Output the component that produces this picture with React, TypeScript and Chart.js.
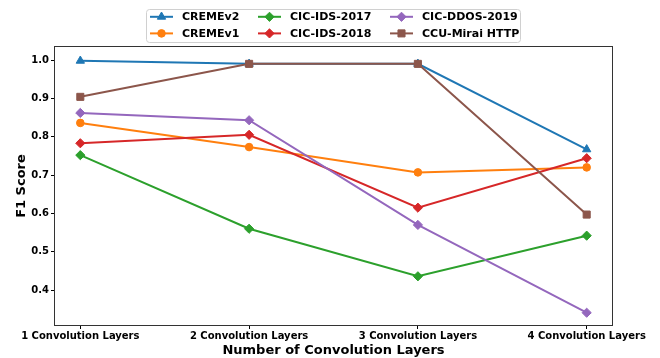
import { useEffect, useRef } from 'react';
import { Chart, registerables } from 'chart.js';
import { drawPoint } from 'chart.js/helpers';

Chart.register(...registerables);

// Categories on the x axis
const layerLabels = [
  '1 Convolution Layers',
  '2 Convolution Layers',
  '3 Convolution Layers',
  '4 Convolution Layers',
];

// F1 tick values shown on the y axis
const f1Ticks = [0.4, 0.5, 0.6, 0.7, 0.8, 0.9, 1.0];

// F1 score per dataset for 1..4 convolution layers
const cremeV2 = [0.998, 0.99, 0.99, 0.767];
const cremeV1 = [0.836, 0.773, 0.707, 0.72];
const cicIds2017 = [0.752, 0.56, 0.436, 0.542];
const cicIds2018 = [0.783, 0.805, 0.615, 0.744];
const cicDdos2019 = [0.862, 0.843, 0.57, 0.341];
const ccuMiraiHttp = [0.904, 0.99, 0.99, 0.597];

const seriesNames = ['CREMEv2', 'CREMEv1', 'CIC-IDS-2017', 'CIC-IDS-2018', 'CIC-DDOS-2019', 'CCU-Mirai HTTP'];
const seriesValues = [cremeV2, cremeV1, cicIds2017, cicIds2018, cicDdos2019, ccuMiraiHttp];
const seriesColors = ['#1f77b4', '#ff7f0e', '#2ca02c', '#d62728', '#9467bd', '#8c564b'];
const seriesMarkers = ['triangle', 'circle', 'rectRot', 'rectRot', 'rectRot', 'rect'];
const seriesRadii = [4.8, 3.8, 4.6, 4.6, 4.6, 5];

const FONT = '"DejaVu Sans", sans-serif';

// Boxed legend laid out in three columns, filled column by column
const gridLegend = {
  id: 'gridLegend',
  afterDraw(chart: any) {
    const ctx = chart.ctx as CanvasRenderingContext2D;
    ctx.save();
    const bx = 146.5, by = 9.5, bw = 374, bh = 33, r = 3;
    ctx.beginPath();
    ctx.moveTo(bx + r, by);
    ctx.lineTo(bx + bw - r, by);
    ctx.arcTo(bx + bw, by, bx + bw, by + r, r);
    ctx.lineTo(bx + bw, by + bh - r);
    ctx.arcTo(bx + bw, by + bh, bx + bw - r, by + bh, r);
    ctx.lineTo(bx + r, by + bh);
    ctx.arcTo(bx, by + bh, bx, by + bh - r, r);
    ctx.lineTo(bx, by + r);
    ctx.arcTo(bx, by, bx + r, by, r);
    ctx.closePath();
    ctx.fillStyle = 'rgba(255,255,255,0.8)';
    ctx.fill();
    ctx.strokeStyle = '#d0d0d0';
    ctx.lineWidth = 1;
    ctx.stroke();

    const colX = [150, 258, 390];
    const rowY = [16.8, 33.4];
    ctx.font = `bold 11px ${FONT}`;
    ctx.textBaseline = 'middle';
    ctx.textAlign = 'left';
    seriesNames.forEach((name, i) => {
      const x = colX[Math.floor(i / 2)];
      const y = rowY[i % 2];
      ctx.strokeStyle = seriesColors[i];
      ctx.fillStyle = seriesColors[i];
      ctx.lineWidth = 2;
      ctx.beginPath();
      ctx.moveTo(x, y);
      ctx.lineTo(x + 23, y);
      ctx.stroke();
      ctx.lineWidth = 1;
      drawPoint(ctx, { pointStyle: seriesMarkers[i], radius: seriesRadii[i], rotation: 0, borderWidth: 1 } as any, x + 11.5, y);
      ctx.fillStyle = '#000';
      ctx.fillText(name, x + 32, y + 0.5);
    });
    ctx.restore();
  },
};

// Full box around the plotting area
const plotFrame = {
  id: 'plotFrame',
  afterDatasetsDraw(chart: any) {
    const { left, top, right, bottom } = chart.chartArea;
    const ctx = chart.ctx as CanvasRenderingContext2D;
    ctx.save();
    ctx.strokeStyle = '#333';
    ctx.lineWidth = 1;
    ctx.strokeRect(Math.round(left) - 0.5, Math.round(top) - 0.5, Math.round(right - left) + 1, Math.round(bottom - top) + 1);
    ctx.restore();
  },
};

export default function App() {
  const canvasRef = useRef<HTMLCanvasElement>(null);

  useEffect(() => {
    if (!canvasRef.current) return;
    const order = [5, 4, 3, 2, 1, 0];
    const chart = new Chart(canvasRef.current, {
      type: 'line',
      data: {
        datasets: seriesNames.map((name, i) => ({
          label: name,
          data: seriesValues[i].map((v, k) => ({ x: k, y: v })),
          borderColor: seriesColors[i],
          backgroundColor: seriesColors[i],
          pointBackgroundColor: seriesColors[i],
          pointBorderColor: seriesColors[i],
          pointStyle: seriesMarkers[i] as any,
          pointRadius: seriesRadii[i],
          pointBorderWidth: 1,
          borderWidth: 2,
          tension: 0,
          order: order[i],
        })),
      },
      plugins: [gridLegend, plotFrame],
      options: {
        animation: false,
        responsive: false,
        devicePixelRatio: 1,
        layout: { padding: { top: 47, right: 48, left: 0, bottom: 0 } },
        plugins: {
          legend: { display: false },
          tooltip: { enabled: false },
        },
        scales: {
          x: {
            type: 'linear',
            min: -0.15,
            max: 3.15,
            afterBuildTicks: (scale: any) => {
              scale.ticks = layerLabels.map((_, k) => ({ value: k }));
            },
            afterFit: (scale: any) => {
              scale.height = 33;
            },
            ticks: {
              callback: (v: any) => layerLabels[v as number] ?? '',
              font: { family: FONT, size: 10, weight: 'bold' },
              color: '#000',
              maxRotation: 0,
              autoSkip: false,
              padding: 1,
            },
            grid: { drawOnChartArea: false, drawTicks: true, tickLength: 4, color: '#000', tickColor: '#000' },
            border: { display: false },
            title: {
              display: true,
              text: 'Number of Convolution Layers',
              font: { family: FONT, size: 13, weight: 'bold' },
              color: '#000',
              padding: { top: 0, bottom: 0 },
            },
          },
          y: {
            type: 'linear',
            min: 0.309,
            max: 1.034,
            afterBuildTicks: (scale: any) => {
              scale.ticks = f1Ticks.map((v) => ({ value: v }));
            },
            afterFit: (scale: any) => {
              scale.width = 55;
            },
            ticks: {
              callback: (v: any) => Number(v).toFixed(1),
              font: { family: FONT, size: 10, weight: 'bold' },
              color: '#000',
              padding: 2,
            },
            grid: { drawOnChartArea: false, drawTicks: true, tickLength: 4, color: '#000', tickColor: '#000' },
            border: { display: false },
            title: {
              display: true,
              text: 'F1 Score',
              font: { family: FONT, size: 13, weight: 'bold' },
              color: '#000',
              padding: { top: 14, bottom: 0 },
            },
          },
        },
      },
    });
    return () => chart.destroy();
  }, []);

  return (
    <div style={{ position: 'fixed', left: 0, top: 0, width: 660, height: 358, background: '#fff' }}>
      <canvas ref={canvasRef} width={660} height={358} />
    </div>
  );
}
